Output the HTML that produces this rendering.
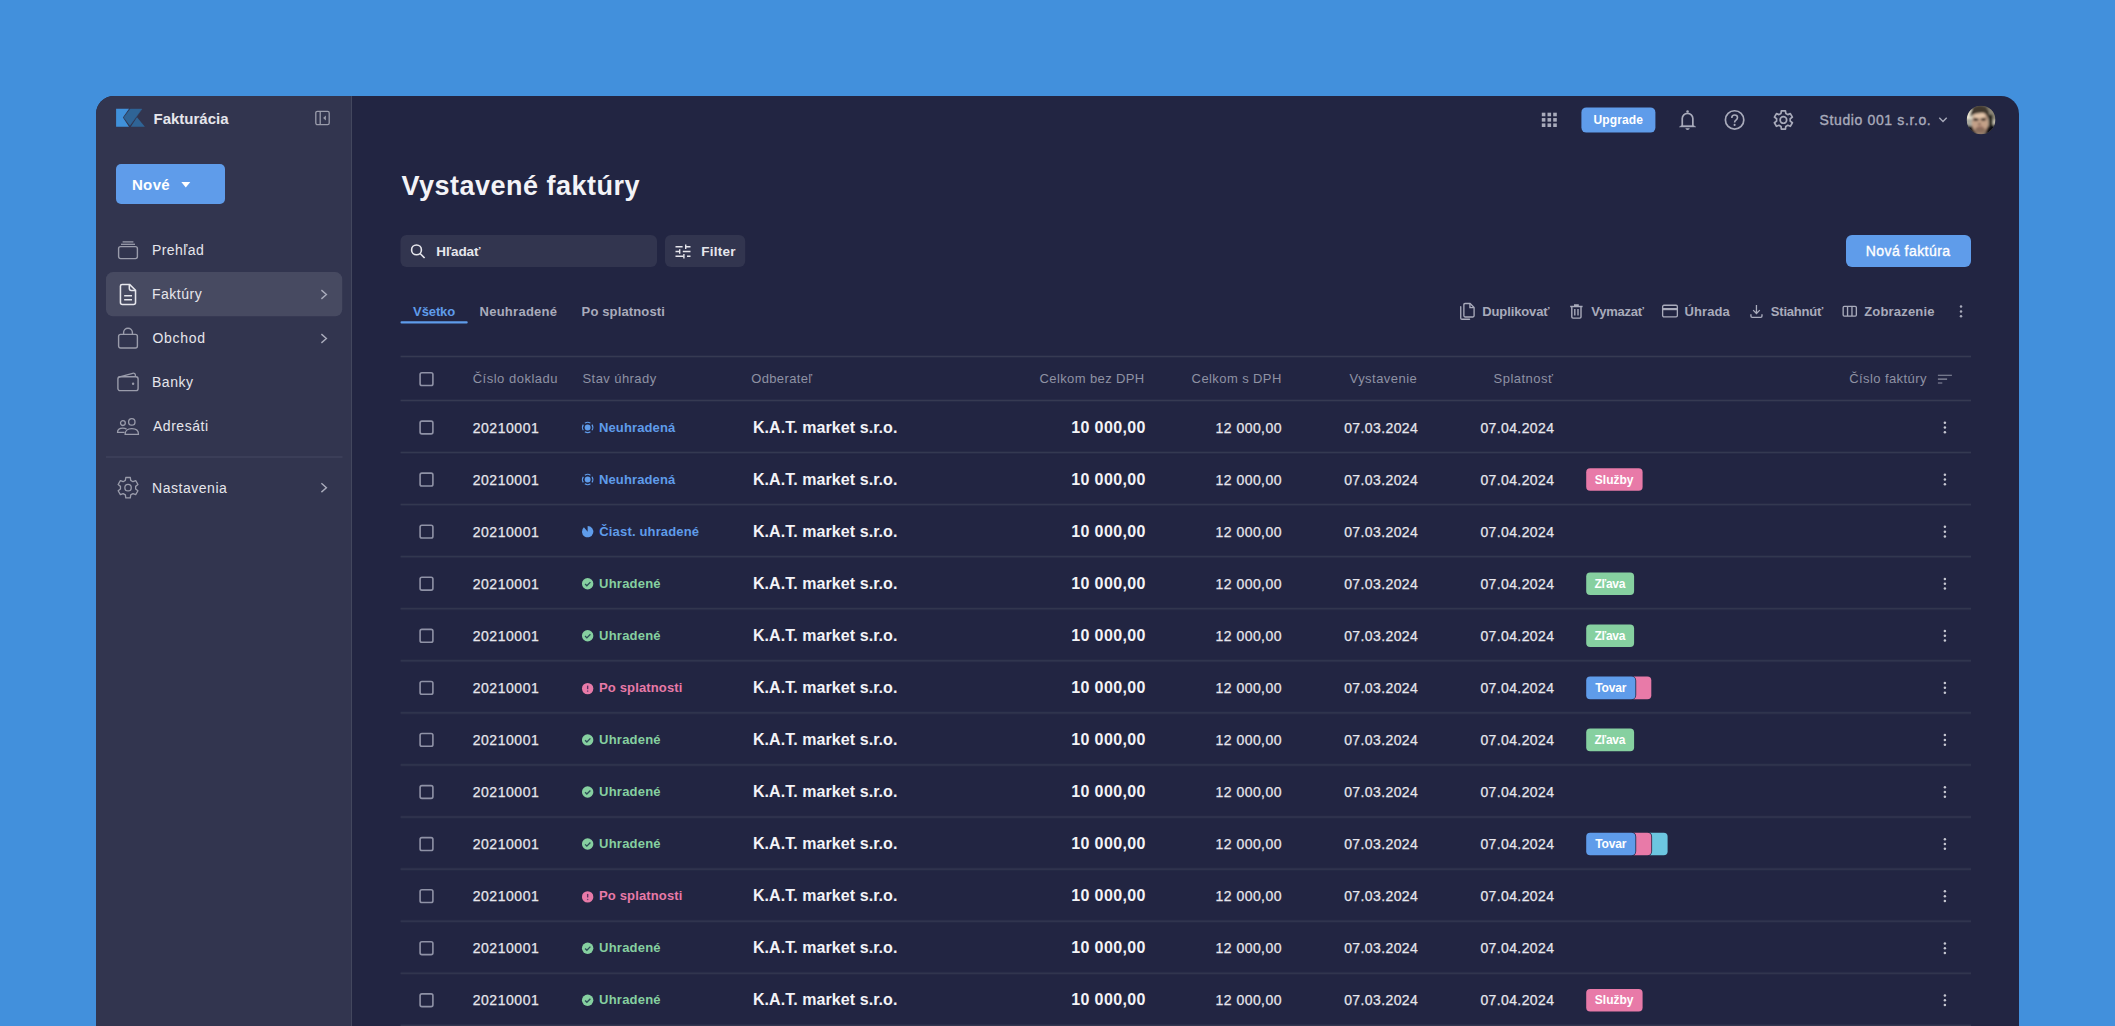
<!DOCTYPE html>
<html lang="sk">
<head>
<meta charset="utf-8">
<title>Vystavené faktúry</title>
<style>
html,body{margin:0;padding:0}
body{width:2115px;height:1026px;overflow:hidden;background:#4290dc;font-family:"Liberation Sans", sans-serif;position:relative}
.b{position:absolute;box-sizing:content-box}
.t{position:absolute;white-space:pre;font-weight:400}
.m{-webkit-text-stroke:0.35px currentColor}
.m2{-webkit-text-stroke:0.25px currentColor}
svg{display:block;overflow:visible}
</style>
</head>
<body>
<div class="b" style="left:96px;top:96px;width:1923px;height:960px;background:#222542;border-radius:18px;overflow:hidden"><div class="b" style="left:0;top:0;width:255px;height:960px;background:#32354f;border-right:1px solid #43475e"></div></div>
<aside class="sidebar">
<svg class="b" style="left:116px;top:108px" width="30" height="21" fill="none"><path d="M0.1 0.7H13L6.9 9.6L13 18.8H0.1Z" fill="#4091db"/><path d="M14.2 1.1H25.9L13.9 17.4L7.9 9.6Z" fill="#2f6496" stroke="#2f6496" stroke-width="0.5" stroke-linejoin="round"/><path d="M21 9.3L28.9 18.8H14.8Z" fill="#2f6496"/></svg>
<svg class="b" style="left:315px;top:110px" width="16" height="17" fill="none"><g transform="translate(0 0.5)"><rect x="0.8" y="0.8" width="13.4" height="13.4" rx="1.6" stroke="#9a9cab" stroke-width="1.3"/><path d="M5.2 1V14" stroke="#9a9cab" stroke-width="1.3"/><path d="M10.9 5L8.1 7.5L10.9 10Z" fill="#9a9cab"/></g></svg>
<svg class="b" style="left:116px;top:164px" width="110" height="41" fill="none"><rect width="109" height="40" rx="5" fill="#5f9cea"/></svg>
<svg class="b" style="left:181px;top:181px" width="11" height="8" fill="none"><g transform="translate(0 0.8)"><path d="M0.3 0.3H9.3L4.8 5.6Z" fill="#fff"/></g></svg>
<svg class="b" style="left:106px;top:272px" width="238" height="46" fill="none"><g transform="translate(0 0.1)"><rect width="236.2" height="44.2" rx="7" fill="#474a61"/></g></svg>
<svg class="b" style="left:106px;top:456px" width="238" height="3" fill="none"><g transform="translate(0 0.5)"><rect width="236.5" height="1" fill="#454962"/></g></svg>
<svg class="b" style="left:117px;top:240px" width="23" height="21" fill="none"><rect x="1.6" y="6.6" width="18.8" height="12" rx="2" stroke="#9a9cab" stroke-width="1.4"/><path d="M4 4.3H18" stroke="#9a9cab" stroke-width="1.3"/><path d="M5.6 1.9H16.4" stroke="#9a9cab" stroke-width="1.3"/></svg>
<svg class="b" style="left:119px;top:283px" width="20" height="24" fill="none"><g transform="scale(1.0333 1)"><path d="M3 1.4H10.2L16 7.2V19.4Q16 21.4 14 21.4H3.4Q1.4 21.4 1.4 19.4V3Q1.4 1.4 3 1.4Z" stroke="#e6e6ec" stroke-width="1.5" stroke-linejoin="round"/><path d="M10 1.6V5.6Q10 7.4 11.8 7.4H15.8" stroke="#e6e6ec" stroke-width="1.5"/><path d="M5 12.7H12.6M5 16.7H12.6" stroke="#e6e6ec" stroke-width="1.5"/></g></svg>
<svg class="b" style="left:117px;top:327px" width="23" height="24" fill="none"><rect x="1.6" y="7.4" width="18.8" height="13.6" rx="2" stroke="#9a9cab" stroke-width="1.4"/><path d="M6.6 7.2V5.6A4.4 4.4 0 0 1 15.4 5.6V7.2" stroke="#9a9cab" stroke-width="1.4"/></svg>
<svg class="b" style="left:116px;top:372px" width="25" height="21" fill="none"><g transform="translate(0.5 0)"><rect x="1.4" y="4.8" width="20.2" height="13.8" rx="2.2" stroke="#9a9cab" stroke-width="1.4"/><path d="M2.2 5.2L16.2 1.3Q18.6 0.8 18.9 3.2V4.8" stroke="#9a9cab" stroke-width="1.3"/><circle cx="16.6" cy="11.8" r="1.2" fill="#9a9cab"/></g></svg>
<svg class="b" style="left:116px;top:417px" width="25" height="20" fill="none"><g transform="translate(0.5 0.5)"><circle cx="15.3" cy="4.4" r="3.2" stroke="#9a9cab" stroke-width="1.3"/><circle cx="6.4" cy="5.6" r="2.4" stroke="#9a9cab" stroke-width="1.3"/><path d="M8.6 16.9Q8.6 11.2 15.3 11.2Q22 11.2 22 16.9Z" stroke="#9a9cab" stroke-width="1.3" stroke-linejoin="round"/><path d="M8 14.9H1Q1 10.6 6.4 10.6Q8.6 10.6 10 11.6" stroke="#9a9cab" stroke-width="1.3" stroke-linejoin="round"/></g></svg>
<svg class="b" style="left:116px;top:476px" width="25" height="24" fill="none"><g transform="translate(0.5 0)"><path d="M8.87 4.43L9.28 1.50L13.82 1.50L14.23 4.43L16.46 5.72L19.21 4.61L21.47 8.54L19.14 10.37L19.14 12.93L21.47 14.76L19.21 18.69L16.46 17.58L14.23 18.87L13.82 21.80L9.28 21.80L8.87 18.87L6.64 17.58L3.89 18.69L1.63 14.76L3.96 12.93L3.96 10.37L1.63 8.54L3.89 4.61L6.64 5.72Z" stroke="#9a9cab" stroke-width="1.3" stroke-linejoin="round"/><circle cx="11.55" cy="11.65" r="3.2" stroke="#9a9cab" stroke-width="1.3"/></g></svg>
<svg class="b" style="left:319px;top:288px" width="11" height="14" fill="none"><g transform="translate(0.4 0.5)"><path d="M2 1.6L7 6L2 10.4" stroke="#a9abbb" stroke-width="1.4"/></g></svg>
<svg class="b" style="left:319px;top:332px" width="11" height="14" fill="none"><g transform="translate(0.4 0.5)"><path d="M2 1.6L7 6L2 10.4" stroke="#a9abbb" stroke-width="1.4"/></g></svg>
<svg class="b" style="left:319px;top:481px" width="11" height="14" fill="none"><g transform="translate(0.4 0.7)"><path d="M2 1.6L7 6L2 10.4" stroke="#a9abbb" stroke-width="1.4"/></g></svg>
<div class="t" style="left:153.5px;top:109px;font-size:15px;line-height:20px;color:#e6e6ec;font-weight:700;">Fakturácia</div>
<div class="t" style="left:131.9px;top:175px;font-size:15px;line-height:20px;color:#ffffff;font-weight:700;letter-spacing:0.37px;">Nové</div>
<div class="t" style="left:152.0px;top:240px;font-size:14px;line-height:20px;color:#e6e6ec;letter-spacing:0.42px;">Prehľad</div>
<div class="t" style="left:152.0px;top:284px;font-size:14px;line-height:20px;color:#e6e6ec;letter-spacing:0.51px;">Faktúry</div>
<div class="t" style="left:152.5px;top:328px;font-size:14px;line-height:20px;color:#e6e6ec;letter-spacing:0.72px;">Obchod</div>
<div class="t" style="left:152.0px;top:372px;font-size:14px;line-height:20px;color:#e6e6ec;letter-spacing:0.53px;">Banky</div>
<div class="t" style="left:152.9px;top:416px;font-size:14px;line-height:20px;color:#e6e6ec;letter-spacing:0.56px;">Adresáti</div>
<div class="t" style="left:152.0px;top:478px;font-size:14px;line-height:20px;color:#e6e6ec;letter-spacing:0.53px;">Nastavenia</div>
</aside>
<header class="topbar">
<svg class="b" style="left:1541px;top:112px" width="17" height="17" fill="none"><g transform="translate(0.8 0.7)"><rect x="0" y="0" width="3.6" height="3.6" fill="#a9abbb"/><rect x="5.7" y="0" width="3.6" height="3.6" fill="#a9abbb"/><rect x="11.4" y="0" width="3.6" height="3.6" fill="#a9abbb"/><rect x="0" y="5.35" width="3.6" height="3.6" fill="#a9abbb"/><rect x="5.7" y="5.35" width="3.6" height="3.6" fill="#a9abbb"/><rect x="11.4" y="5.35" width="3.6" height="3.6" fill="#a9abbb"/><rect x="0" y="10.7" width="3.6" height="3.6" fill="#a9abbb"/><rect x="5.7" y="10.7" width="3.6" height="3.6" fill="#a9abbb"/><rect x="11.4" y="10.7" width="3.6" height="3.6" fill="#a9abbb"/></g></svg>
<svg class="b" style="left:1581px;top:107px" width="76" height="27" fill="none"><g transform="translate(0.4 0.4)"><rect width="74" height="25.2" rx="5" fill="#5f9cea"/></g></svg>
<svg class="b" style="left:1678px;top:109px" width="20" height="23" fill="none"><circle cx="9.55" cy="2.5" r="1.25" fill="#a9abbb"/><path d="M4.25 17V9.6A5.3 5.3 0 0 1 14.85 9.6V17" stroke="#a9abbb" stroke-width="1.7"/><path d="M3.4 16.4L1.3 18H17.8L15.7 16.4Z" fill="#a9abbb" stroke="#a9abbb" stroke-width="0.4" stroke-linejoin="round"/><path d="M7.3 19.2H11.8Q11.3 20.9 9.55 20.9Q7.8 20.9 7.3 19.2Z" fill="#a9abbb"/></svg>
<svg class="b" style="left:1724px;top:109px" width="22" height="23" fill="none"><g transform="translate(0 0.5)"><circle cx="10.6" cy="10.45" r="9.2" stroke="#a9abbb" stroke-width="1.7"/><path d="M7.8 8.4Q7.8 5.5 10.6 5.5Q13.5 5.5 13.5 8Q13.5 9.5 12 10.6Q10.6 11.6 10.6 12.9" stroke="#a9abbb" stroke-width="1.6"/><circle cx="10.6" cy="15.4" r="1.05" fill="#a9abbb"/></g></svg>
<svg class="b" style="left:1773px;top:109px" width="22" height="23" fill="none"><g transform="translate(0 0.45)"><path d="M7.99 4.03L8.35 1.33L12.45 1.33L12.81 4.03L14.80 5.18L17.32 4.14L19.37 7.69L17.20 9.35L17.20 11.65L19.37 13.31L17.32 16.86L14.80 15.82L12.81 16.97L12.45 19.67L8.35 19.67L7.99 16.97L6.00 15.82L3.48 16.86L1.43 13.31L3.60 11.65L3.60 9.35L1.43 7.69L3.48 4.14L6.00 5.18Z" stroke="#a9abbb" stroke-width="1.7" stroke-linejoin="round"/><circle cx="10.4" cy="10.5" r="3.3" stroke="#a9abbb" stroke-width="1.7"/></g></svg>
<svg class="b" style="left:1938px;top:116px" width="11" height="9" fill="none"><g transform="translate(0 0.5)"><path d="M1.3 1.3L5 4.9L8.7 1.3" stroke="#a9abbb" stroke-width="1.4"/></g></svg>
<svg class="b" style="left:1966px;top:105px" width="30" height="30"><g transform="translate(0.8 0.7)"><defs><clipPath id="avc"><circle cx="14.25" cy="14.25" r="14.25"/></clipPath><filter id="avb" x="-20%" y="-20%" width="140%" height="140%"><feGaussianBlur stdDeviation="0.85"/></filter></defs><g clip-path="url(#avc)"><rect width="28.5" height="28.5" fill="#6f695d"/><g filter="url(#avb)"><rect x="-2" y="3" width="8" height="10.5" fill="#ece6d4"/><rect x="-2" y="13.5" width="8" height="8" fill="#a9a99f"/><rect x="20" y="2" width="10" height="22" fill="#8d8778"/><rect x="22.4" y="9" width="3.2" height="13" fill="#14120f"/><rect x="26.2" y="14" width="3" height="8" fill="#c9c5b5"/><path d="M-2 19.5L9 21V30H-2ZM19 21.5L30 18.5V30H19Z" fill="#0c0d14"/><ellipse cx="13.2" cy="17" rx="8.2" ry="11.6" fill="#c3a088"/><ellipse cx="12.6" cy="9.6" rx="6" ry="3" fill="#e4c6ab"/><path d="M3.6 12Q3 0.5 12.5 0Q20.5 -0.2 22.2 6Q22.8 9 21.6 14Q20.3 8.6 17 7.4Q11 6.6 5.8 9Q4.6 10 3.6 12Z" fill="#40392f"/><ellipse cx="9" cy="13.9" rx="2.8" ry="1.4" fill="#1c1512"/><ellipse cx="16.6" cy="13.6" rx="2.8" ry="1.4" fill="#1c1512"/><ellipse cx="12.6" cy="18.4" rx="1.7" ry="0.8" fill="#6d5242"/><ellipse cx="13.3" cy="24.4" rx="5.4" ry="3.4" fill="#8a6e5d"/><ellipse cx="13.4" cy="21.2" rx="3" ry="0.8" fill="#9b6e63"/></g></g></g></svg>
<div class="t" style="left:1593.4px;top:110px;font-size:12px;line-height:20px;color:#ffffff;font-weight:700;letter-spacing:0.15px;">Upgrade</div>
<div class="t m" style="left:1819.5px;top:110px;font-size:14px;line-height:20px;color:#a9abbb;letter-spacing:0.63px;">Studio 001 s.r.o.</div>
</header>
<section class="page-head">
<svg class="b" style="left:400px;top:235px" width="258" height="34" fill="none"><g transform="translate(0.5 0.1)"><rect width="256.5" height="32" rx="6" fill="#32354f"/></g></svg>
<svg class="b" style="left:410px;top:243px" width="18" height="18" fill="none"><g transform="translate(0.2 0.6)"><circle cx="6.3" cy="6.3" r="4.9" stroke="#e6e6ec" stroke-width="1.6"/><path d="M9.9 9.9L14.4 14.4" stroke="#e6e6ec" stroke-width="1.6"/></g></svg>
<svg class="b" style="left:665px;top:235px" width="82" height="34" fill="none"><g transform="translate(0 0.1)"><rect width="80.2" height="32" rx="6" fill="#32354f"/></g></svg>
<svg class="b" style="left:675px;top:244px" width="17" height="16" fill="none"><path d="M0.5 2.8H7.6M11 2.8H15.5M0.5 7.5H4.4M7.8 7.5H15.5M0.5 12.2H8.6M12 12.2H15.5" stroke="#e6e6ec" stroke-width="1.4"/><path d="M10.7 0.6V5M4.7 5.3V9.7M8.9 10V14.4" stroke="#e6e6ec" stroke-width="1.4"/></svg>
<svg class="b" style="left:1846px;top:235px" width="126" height="33" fill="none"><rect width="125" height="32" rx="6" fill="#5f9cea"/></svg>
<div class="t" style="left:401.5px;top:166px;font-size:27px;line-height:40px;color:#f3f3f7;font-weight:700;letter-spacing:0.5px;">Vystavené faktúry</div>
<div class="t" style="left:436.3px;top:242px;font-size:13.5px;line-height:20px;color:#e6e6ec;font-weight:700;letter-spacing:-0.1px;">Hľadať</div>
<div class="t" style="left:701.3px;top:242px;font-size:13.5px;line-height:20px;color:#e6e6ec;font-weight:700;letter-spacing:0.25px;">Filter</div>
<div class="t m" style="left:1865.7px;top:241px;font-size:14px;line-height:20px;color:#ffffff;letter-spacing:0.46px;">Nová faktúra</div>
</section>
<nav class="tabs">
<svg class="b" style="left:400px;top:321px" width="69" height="4" fill="none"><g transform="translate(0.5 0.3)"><rect width="67.2" height="2.3" rx="1" fill="#5f9cea"/></g></svg>
<div class="t" style="left:413.1px;top:302px;font-size:13px;line-height:20px;color:#5f9cea;font-weight:700;letter-spacing:-0.11px;">Všetko</div>
<div class="t" style="left:479.5px;top:302px;font-size:13px;line-height:20px;color:#a9abbb;font-weight:700;letter-spacing:0.27px;">Neuhradené</div>
<div class="t" style="left:581.6px;top:302px;font-size:13px;line-height:20px;color:#a9abbb;font-weight:700;letter-spacing:0.14px;">Po splatnosti</div>
</nav>
<div class="actions">
<svg class="b" style="left:1459px;top:302px" width="18" height="20" fill="none"><g transform="translate(0.7 0.4) scale(0.9471 0.9474)"><path d="M5.6 1.2H11L15.2 5.4V14.2Q15.2 15.4 14 15.4H5.6Q4.4 15.4 4.4 14.2V2.4Q4.4 1.2 5.6 1.2Z" stroke="#a9abbb" stroke-width="1.4" stroke-linejoin="round"/><path d="M10.8 1.4V5.6H15" stroke="#a9abbb" stroke-width="1.4"/><path d="M1.1 4.6V16.6Q1.1 17.8 2.3 17.8H10.4" stroke="#a9abbb" stroke-width="1.4" stroke-linecap="round"/></g></svg>
<svg class="b" style="left:1569px;top:304px" width="16" height="17" fill="none"><g transform="translate(0.4 0) scale(1 0.9625)"><path d="M0.8 2.6H13.2M4.6 1H9.4" stroke="#a9abbb" stroke-width="1.4"/><path d="M2.4 2.8V13.4Q2.4 14.6 3.6 14.6H10.4Q11.6 14.6 11.6 13.4V2.8" stroke="#a9abbb" stroke-width="1.4"/><path d="M5.4 5.2V12M8.6 5.2V12" stroke="#a9abbb" stroke-width="1.4"/></g></svg>
<svg class="b" style="left:1661px;top:304px" width="19" height="16" fill="none"><g transform="translate(0.5 0.1) scale(0.9444 1)"><rect x="1.2" y="1.2" width="15.6" height="11.6" rx="1.4" stroke="#a9abbb" stroke-width="1.4"/><path d="M1.2 5H16.8" stroke="#a9abbb" stroke-width="2.2"/></g></svg>
<svg class="b" style="left:1750px;top:304px" width="14" height="16" fill="none"><g transform="translate(0 0.2) scale(0.9214 0.9533)"><path d="M7 0.8V9.6M3.4 6.2L7 9.8L10.6 6.2" stroke="#a9abbb" stroke-width="1.4"/><path d="M1 10.6V12.4Q1 13.8 2.4 13.8H11.6Q13 13.8 13 12.4V10.6" stroke="#a9abbb" stroke-width="1.5"/></g></svg>
<svg class="b" style="left:1842px;top:305px" width="17" height="13" fill="none"><g transform="translate(0.3 0.6) scale(0.9563 0.9417)"><rect x="0.9" y="0.9" width="13.8" height="10.2" rx="1.2" stroke="#a9abbb" stroke-width="1.4"/><path d="M5.5 1V11M10.1 1V11" stroke="#a9abbb" stroke-width="1.4"/></g></svg>
<svg class="b" style="left:1959px;top:304px" width="5" height="16" fill="none"><g transform="translate(0 0.4)"><circle cx="2" cy="2.2" r="1.25" fill="#a9abbb"/><circle cx="2" cy="7" r="1.25" fill="#a9abbb"/><circle cx="2" cy="11.8" r="1.25" fill="#a9abbb"/></g></svg>
<div class="t" style="left:1482.3px;top:302px;font-size:13px;line-height:20px;color:#a9abbb;font-weight:700;letter-spacing:-0.13px;">Duplikovať</div>
<div class="t" style="left:1591.2px;top:302px;font-size:13px;line-height:20px;color:#a9abbb;font-weight:700;letter-spacing:-0.24px;">Vymazať</div>
<div class="t" style="left:1684.4px;top:302px;font-size:13px;line-height:20px;color:#a9abbb;font-weight:700;letter-spacing:0.12px;">Úhrada</div>
<div class="t" style="left:1770.8px;top:302px;font-size:13px;line-height:20px;color:#a9abbb;font-weight:700;letter-spacing:-0.2px;">Stiahnúť</div>
<div class="t" style="left:1864.2px;top:302px;font-size:13px;line-height:20px;color:#a9abbb;font-weight:700;letter-spacing:0.18px;">Zobrazenie</div>
</div>
<div class="table-head">
<svg class="b" style="left:400px;top:355px" width="1572" height="4" fill="none"><g transform="translate(0.6 0)"><rect width="1570.4" height="3" fill="#363a52" opacity=".3"/><rect y="1" width="1570.4" height="1" fill="#363a52"/></g></svg>
<svg class="b" style="left:400px;top:399px" width="1572" height="4" fill="none"><g transform="translate(0.6 0)"><rect width="1570.4" height="3" fill="#363a52" opacity=".3"/><rect y="1" width="1570.4" height="1" fill="#363a52"/></g></svg>
<svg class="b" style="left:419px;top:371px" width="16" height="17" fill="none"><g transform="translate(0 0.6)"><rect x="1.1" y="1.1" width="12.8" height="12.8" rx="1.8" stroke="#8f92a6" stroke-width="1.6"/></g></svg>
<svg class="b" style="left:1937px;top:374px" width="17" height="12" fill="none"><g transform="translate(0.5 0.1)"><path d="M0.4 1.1H14.4M0.4 5H9.6M0.4 8.9H4.8" stroke="#8f92a4" stroke-width="1.15"/></g></svg>
<div class="t" style="left:472.7px;top:369px;font-size:13px;line-height:20px;color:#8f92a4;letter-spacing:0.51px;">Číslo dokladu</div>
<div class="t" style="left:582.5px;top:369px;font-size:13px;line-height:20px;color:#8f92a4;letter-spacing:0.43px;">Stav úhrady</div>
<div class="t" style="left:751.2px;top:369px;font-size:13px;line-height:20px;color:#8f92a4;letter-spacing:0.37px;">Odberateľ</div>
<div class="t" style="left:1039.6px;top:369px;font-size:13px;line-height:20px;color:#8f92a4;letter-spacing:0.38px;">Celkom bez DPH</div>
<div class="t" style="left:1191.6px;top:369px;font-size:13px;line-height:20px;color:#8f92a4;letter-spacing:0.41px;">Celkom s DPH</div>
<div class="t" style="left:1349.5px;top:369px;font-size:13px;line-height:20px;color:#8f92a4;letter-spacing:0.46px;">Vystavenie</div>
<div class="t" style="left:1493.6px;top:369px;font-size:13px;line-height:20px;color:#8f92a4;letter-spacing:0.48px;">Splatnosť</div>
<div class="t" style="left:1849.2px;top:369px;font-size:13px;line-height:20px;color:#8f92a4;letter-spacing:0.42px;">Číslo faktúry</div>
</div>
<div class="table-row">
<svg class="b" style="left:400px;top:451px" width="1572" height="5" fill="none"><g transform="translate(0.6 0.05)"><rect width="1570.4" height="3" fill="#363a52" opacity=".3"/><rect y="1" width="1570.4" height="1" fill="#363a52"/></g></svg>
<svg class="b" style="left:419px;top:420px" width="16" height="16" fill="none"><rect x="1.1" y="1.1" width="12.8" height="12.8" rx="1.8" stroke="#8f92a6" stroke-width="1.6"/></svg>
<svg class="b" style="left:581px;top:421px" width="14" height="14" fill="none"><g transform="translate(0.75 0.55) scale(0.9833 0.9833)"><path d="M10.4 3.14A5.25 5.25 0 0 1 10.4 8.86M8.86 10.4A5.25 5.25 0 0 1 3.14 10.4M1.6 8.86A5.25 5.25 0 0 1 1.6 3.14M3.14 1.6A5.25 5.25 0 0 1 8.86 1.6" stroke="#5f9cea" stroke-width="1.15"/><circle cx="6" cy="6" r="3" fill="#5f9cea"/></g></svg>
<svg class="b" style="left:1942px;top:420px" width="6" height="16" fill="none"><g transform="translate(0.9 0.5)"><circle cx="2" cy="2.2" r="1.25" fill="#c6c7d1"/><circle cx="2" cy="7" r="1.25" fill="#c6c7d1"/><circle cx="2" cy="11.8" r="1.25" fill="#c6c7d1"/></g></svg>
<div class="t m2" style="left:472.7px;top:418px;font-size:14px;line-height:20px;color:#e6e6ec;letter-spacing:0.55px;">20210001</div>
<div class="t" style="left:599.0px;top:418px;font-size:13px;line-height:20px;color:#5f9cea;font-weight:700;letter-spacing:0.12px;">Neuhradená</div>
<div class="t" style="left:752.9px;top:418px;font-size:16px;line-height:20px;color:#f3f3f7;font-weight:700;letter-spacing:0.07px;">K.A.T. market s.r.o.</div>
<div class="t" style="left:1071.2px;top:418px;font-size:16px;line-height:20px;color:#f3f3f7;font-weight:700;letter-spacing:0.39px;">10 000,00</div>
<div class="t m2" style="left:1215.6px;top:418px;font-size:14px;line-height:20px;color:#e6e6ec;letter-spacing:0.45px;">12 000,00</div>
<div class="t m2" style="left:1344.2px;top:418px;font-size:14px;line-height:20px;color:#e6e6ec;letter-spacing:0.39px;">07.03.2024</div>
<div class="t m2" style="left:1480.4px;top:418px;font-size:14px;line-height:20px;color:#e6e6ec;letter-spacing:0.39px;">07.04.2024</div>
</div>
<div class="table-row">
<svg class="b" style="left:400px;top:503px" width="1572" height="5" fill="none"><g transform="translate(0.6 0.12)"><rect width="1570.4" height="3" fill="#363a52" opacity=".3"/><rect y="1" width="1570.4" height="1" fill="#363a52"/></g></svg>
<svg class="b" style="left:419px;top:472px" width="16" height="17" fill="none"><g transform="translate(0 0.07)"><rect x="1.1" y="1.1" width="12.8" height="12.8" rx="1.8" stroke="#8f92a6" stroke-width="1.6"/></g></svg>
<svg class="b" style="left:581px;top:473px" width="14" height="14" fill="none"><g transform="translate(0.75 0.62) scale(0.9833 0.9833)"><path d="M10.4 3.14A5.25 5.25 0 0 1 10.4 8.86M8.86 10.4A5.25 5.25 0 0 1 3.14 10.4M1.6 8.86A5.25 5.25 0 0 1 1.6 3.14M3.14 1.6A5.25 5.25 0 0 1 8.86 1.6" stroke="#5f9cea" stroke-width="1.15"/><circle cx="6" cy="6" r="3" fill="#5f9cea"/></g></svg>
<svg class="b" style="left:1585px;top:467px" width="60" height="26" fill="none"><g transform="translate(0.2 0.27)"><rect x="1" y="1" width="56.4" height="22.6" rx="4" fill="#e87aa8"/></g></svg>
<svg class="b" style="left:1942px;top:472px" width="6" height="16" fill="none"><g transform="translate(0.9 0.57)"><circle cx="2" cy="2.2" r="1.25" fill="#c6c7d1"/><circle cx="2" cy="7" r="1.25" fill="#c6c7d1"/><circle cx="2" cy="11.8" r="1.25" fill="#c6c7d1"/></g></svg>
<div class="t m2" style="left:472.7px;top:470px;font-size:14px;line-height:20px;color:#e6e6ec;letter-spacing:0.55px;">20210001</div>
<div class="t" style="left:599.0px;top:470px;font-size:13px;line-height:20px;color:#5f9cea;font-weight:700;letter-spacing:0.12px;">Neuhradená</div>
<div class="t" style="left:752.9px;top:470px;font-size:16px;line-height:20px;color:#f3f3f7;font-weight:700;letter-spacing:0.07px;">K.A.T. market s.r.o.</div>
<div class="t" style="left:1071.2px;top:470px;font-size:16px;line-height:20px;color:#f3f3f7;font-weight:700;letter-spacing:0.39px;">10 000,00</div>
<div class="t m2" style="left:1215.6px;top:470px;font-size:14px;line-height:20px;color:#e6e6ec;letter-spacing:0.45px;">12 000,00</div>
<div class="t m2" style="left:1344.2px;top:470px;font-size:14px;line-height:20px;color:#e6e6ec;letter-spacing:0.39px;">07.03.2024</div>
<div class="t m2" style="left:1480.4px;top:470px;font-size:14px;line-height:20px;color:#e6e6ec;letter-spacing:0.39px;">07.04.2024</div>
<div class="t" style="left:1594.8px;top:470px;font-size:12px;line-height:20px;color:#ffffff;font-weight:700;letter-spacing:0.01px;">Služby</div>
</div>
<div class="table-row">
<svg class="b" style="left:400px;top:555px" width="1572" height="5" fill="none"><g transform="translate(0.6 0.19)"><rect width="1570.4" height="3" fill="#363a52" opacity=".3"/><rect y="1" width="1570.4" height="1" fill="#363a52"/></g></svg>
<svg class="b" style="left:419px;top:524px" width="16" height="17" fill="none"><g transform="translate(0 0.14)"><rect x="1.1" y="1.1" width="12.8" height="12.8" rx="1.8" stroke="#8f92a6" stroke-width="1.6"/></g></svg>
<svg class="b" style="left:581px;top:525px" width="14" height="14" fill="none"><g transform="translate(0.75 0.74) scale(0.9833 0.9833)"><path d="M6 6L2.2 1.6A5.8 5.8 0 1 0 6 0.2Z" fill="#5f9cea"/></g></svg>
<svg class="b" style="left:1942px;top:524px" width="6" height="16" fill="none"><g transform="translate(0.9 0.64)"><circle cx="2" cy="2.2" r="1.25" fill="#c6c7d1"/><circle cx="2" cy="7" r="1.25" fill="#c6c7d1"/><circle cx="2" cy="11.8" r="1.25" fill="#c6c7d1"/></g></svg>
<div class="t m2" style="left:472.7px;top:522px;font-size:14px;line-height:20px;color:#e6e6ec;letter-spacing:0.55px;">20210001</div>
<div class="t" style="left:599.3px;top:522px;font-size:13px;line-height:20px;color:#5f9cea;font-weight:700;letter-spacing:0.16px;">Čiast. uhradené</div>
<div class="t" style="left:752.9px;top:522px;font-size:16px;line-height:20px;color:#f3f3f7;font-weight:700;letter-spacing:0.07px;">K.A.T. market s.r.o.</div>
<div class="t" style="left:1071.2px;top:522px;font-size:16px;line-height:20px;color:#f3f3f7;font-weight:700;letter-spacing:0.39px;">10 000,00</div>
<div class="t m2" style="left:1215.6px;top:522px;font-size:14px;line-height:20px;color:#e6e6ec;letter-spacing:0.45px;">12 000,00</div>
<div class="t m2" style="left:1344.2px;top:522px;font-size:14px;line-height:20px;color:#e6e6ec;letter-spacing:0.39px;">07.03.2024</div>
<div class="t m2" style="left:1480.4px;top:522px;font-size:14px;line-height:20px;color:#e6e6ec;letter-spacing:0.39px;">07.04.2024</div>
</div>
<div class="table-row">
<svg class="b" style="left:400px;top:607px" width="1572" height="5" fill="none"><g transform="translate(0.6 0.26)"><rect width="1570.4" height="3" fill="#363a52" opacity=".3"/><rect y="1" width="1570.4" height="1" fill="#363a52"/></g></svg>
<svg class="b" style="left:419px;top:576px" width="16" height="17" fill="none"><g transform="translate(0 0.21)"><rect x="1.1" y="1.1" width="12.8" height="12.8" rx="1.8" stroke="#8f92a6" stroke-width="1.6"/></g></svg>
<svg class="b" style="left:581px;top:577px" width="14" height="14" fill="none"><g transform="translate(0.75 0.81) scale(0.9833 0.9833)"><circle cx="6" cy="6" r="5.8" fill="#86d0a0"/><path d="M3.4 6.3L5.2 8.1L8.8 4.4" stroke="#2c4f57" stroke-width="1.35"/></g></svg>
<svg class="b" style="left:1585px;top:571px" width="52" height="27" fill="none"><g transform="translate(0.2 0.41)"><rect x="1" y="1" width="47.9" height="22.6" rx="4" fill="#86d0a0"/></g></svg>
<svg class="b" style="left:1942px;top:576px" width="6" height="16" fill="none"><g transform="translate(0.9 0.71)"><circle cx="2" cy="2.2" r="1.25" fill="#c6c7d1"/><circle cx="2" cy="7" r="1.25" fill="#c6c7d1"/><circle cx="2" cy="11.8" r="1.25" fill="#c6c7d1"/></g></svg>
<div class="t m2" style="left:472.7px;top:574px;font-size:14px;line-height:20px;color:#e6e6ec;letter-spacing:0.55px;">20210001</div>
<div class="t" style="left:599.1px;top:574px;font-size:13px;line-height:20px;color:#86d0a0;font-weight:700;letter-spacing:0.22px;">Uhradené</div>
<div class="t" style="left:752.9px;top:574px;font-size:16px;line-height:20px;color:#f3f3f7;font-weight:700;letter-spacing:0.07px;">K.A.T. market s.r.o.</div>
<div class="t" style="left:1071.2px;top:574px;font-size:16px;line-height:20px;color:#f3f3f7;font-weight:700;letter-spacing:0.39px;">10 000,00</div>
<div class="t m2" style="left:1215.6px;top:574px;font-size:14px;line-height:20px;color:#e6e6ec;letter-spacing:0.45px;">12 000,00</div>
<div class="t m2" style="left:1344.2px;top:574px;font-size:14px;line-height:20px;color:#e6e6ec;letter-spacing:0.39px;">07.03.2024</div>
<div class="t m2" style="left:1480.4px;top:574px;font-size:14px;line-height:20px;color:#e6e6ec;letter-spacing:0.39px;">07.04.2024</div>
<div class="t" style="left:1594.5px;top:574px;font-size:12px;line-height:20px;color:#ffffff;font-weight:700;letter-spacing:-0.27px;">Zľava</div>
</div>
<div class="table-row">
<svg class="b" style="left:400px;top:659px" width="1572" height="5" fill="none"><g transform="translate(0.6 0.33)"><rect width="1570.4" height="3" fill="#363a52" opacity=".3"/><rect y="1" width="1570.4" height="1" fill="#363a52"/></g></svg>
<svg class="b" style="left:419px;top:628px" width="16" height="17" fill="none"><g transform="translate(0 0.28)"><rect x="1.1" y="1.1" width="12.8" height="12.8" rx="1.8" stroke="#8f92a6" stroke-width="1.6"/></g></svg>
<svg class="b" style="left:581px;top:629px" width="14" height="14" fill="none"><g transform="translate(0.75 0.88) scale(0.9833 0.9833)"><circle cx="6" cy="6" r="5.8" fill="#86d0a0"/><path d="M3.4 6.3L5.2 8.1L8.8 4.4" stroke="#2c4f57" stroke-width="1.35"/></g></svg>
<svg class="b" style="left:1585px;top:623px" width="52" height="27" fill="none"><g transform="translate(0.2 0.48)"><rect x="1" y="1" width="47.9" height="22.6" rx="4" fill="#86d0a0"/></g></svg>
<svg class="b" style="left:1942px;top:628px" width="6" height="16" fill="none"><g transform="translate(0.9 0.78)"><circle cx="2" cy="2.2" r="1.25" fill="#c6c7d1"/><circle cx="2" cy="7" r="1.25" fill="#c6c7d1"/><circle cx="2" cy="11.8" r="1.25" fill="#c6c7d1"/></g></svg>
<div class="t m2" style="left:472.7px;top:626px;font-size:14px;line-height:20px;color:#e6e6ec;letter-spacing:0.55px;">20210001</div>
<div class="t" style="left:599.1px;top:626px;font-size:13px;line-height:20px;color:#86d0a0;font-weight:700;letter-spacing:0.22px;">Uhradené</div>
<div class="t" style="left:752.9px;top:626px;font-size:16px;line-height:20px;color:#f3f3f7;font-weight:700;letter-spacing:0.07px;">K.A.T. market s.r.o.</div>
<div class="t" style="left:1071.2px;top:626px;font-size:16px;line-height:20px;color:#f3f3f7;font-weight:700;letter-spacing:0.39px;">10 000,00</div>
<div class="t m2" style="left:1215.6px;top:626px;font-size:14px;line-height:20px;color:#e6e6ec;letter-spacing:0.45px;">12 000,00</div>
<div class="t m2" style="left:1344.2px;top:626px;font-size:14px;line-height:20px;color:#e6e6ec;letter-spacing:0.39px;">07.03.2024</div>
<div class="t m2" style="left:1480.4px;top:626px;font-size:14px;line-height:20px;color:#e6e6ec;letter-spacing:0.39px;">07.04.2024</div>
<div class="t" style="left:1594.5px;top:626px;font-size:12px;line-height:20px;color:#ffffff;font-weight:700;letter-spacing:-0.27px;">Zľava</div>
</div>
<div class="table-row">
<svg class="b" style="left:400px;top:711px" width="1572" height="5" fill="none"><g transform="translate(0.6 0.4)"><rect width="1570.4" height="3" fill="#363a52" opacity=".3"/><rect y="1" width="1570.4" height="1" fill="#363a52"/></g></svg>
<svg class="b" style="left:419px;top:680px" width="16" height="17" fill="none"><g transform="translate(0 0.35)"><rect x="1.1" y="1.1" width="12.8" height="12.8" rx="1.8" stroke="#8f92a6" stroke-width="1.6"/></g></svg>
<svg class="b" style="left:581px;top:682px" width="14" height="14" fill="none"><g transform="translate(0.75 0.7) scale(0.9833 0.9833)"><circle cx="6" cy="6" r="5.8" fill="#e87aa8"/><path d="M6 3V6.6" stroke="#5a2f62" stroke-width="1.4"/><circle cx="6" cy="8.6" r="0.8" fill="#7a4378"/></g></svg>
<svg class="b" style="left:1629px;top:675px" width="25" height="27" fill="none"><g transform="translate(0 0.55)"><rect x="1" y="1" width="21.3" height="22.6" rx="4" fill="#e87aa8"/></g></svg>
<svg class="b" style="left:1585px;top:675px" width="53" height="27" fill="none"><g transform="translate(0.2 0.55)"><rect x="1" y="1" width="49.2" height="22.6" rx="4" fill="#5f9cea" stroke="#222542" stroke-width="1.6" paint-order="stroke"/></g></svg>
<svg class="b" style="left:1942px;top:680px" width="6" height="16" fill="none"><g transform="translate(0.9 0.85)"><circle cx="2" cy="2.2" r="1.25" fill="#c6c7d1"/><circle cx="2" cy="7" r="1.25" fill="#c6c7d1"/><circle cx="2" cy="11.8" r="1.25" fill="#c6c7d1"/></g></svg>
<div class="t m2" style="left:472.7px;top:678px;font-size:14px;line-height:20px;color:#e6e6ec;letter-spacing:0.55px;">20210001</div>
<div class="t" style="left:599.0px;top:678px;font-size:13px;line-height:20px;color:#e87aa8;font-weight:700;letter-spacing:0.15px;">Po splatnosti</div>
<div class="t" style="left:752.9px;top:678px;font-size:16px;line-height:20px;color:#f3f3f7;font-weight:700;letter-spacing:0.07px;">K.A.T. market s.r.o.</div>
<div class="t" style="left:1071.2px;top:678px;font-size:16px;line-height:20px;color:#f3f3f7;font-weight:700;letter-spacing:0.39px;">10 000,00</div>
<div class="t m2" style="left:1215.6px;top:678px;font-size:14px;line-height:20px;color:#e6e6ec;letter-spacing:0.45px;">12 000,00</div>
<div class="t m2" style="left:1344.2px;top:678px;font-size:14px;line-height:20px;color:#e6e6ec;letter-spacing:0.39px;">07.03.2024</div>
<div class="t m2" style="left:1480.4px;top:678px;font-size:14px;line-height:20px;color:#e6e6ec;letter-spacing:0.39px;">07.04.2024</div>
<div class="t" style="left:1595.2px;top:678px;font-size:12px;line-height:20px;color:#ffffff;font-weight:700;letter-spacing:-0.11px;">Tovar</div>
</div>
<div class="table-row">
<svg class="b" style="left:400px;top:763px" width="1572" height="5" fill="none"><g transform="translate(0.6 0.47)"><rect width="1570.4" height="3" fill="#363a52" opacity=".3"/><rect y="1" width="1570.4" height="1" fill="#363a52"/></g></svg>
<svg class="b" style="left:419px;top:732px" width="16" height="17" fill="none"><g transform="translate(0 0.42)"><rect x="1.1" y="1.1" width="12.8" height="12.8" rx="1.8" stroke="#8f92a6" stroke-width="1.6"/></g></svg>
<svg class="b" style="left:581px;top:734px" width="14" height="13" fill="none"><g transform="translate(0.75 0.02) scale(0.9833 0.9833)"><circle cx="6" cy="6" r="5.8" fill="#86d0a0"/><path d="M3.4 6.3L5.2 8.1L8.8 4.4" stroke="#2c4f57" stroke-width="1.35"/></g></svg>
<svg class="b" style="left:1585px;top:727px" width="52" height="27" fill="none"><g transform="translate(0.2 0.62)"><rect x="1" y="1" width="47.9" height="22.6" rx="4" fill="#86d0a0"/></g></svg>
<svg class="b" style="left:1942px;top:732px" width="6" height="16" fill="none"><g transform="translate(0.9 0.92)"><circle cx="2" cy="2.2" r="1.25" fill="#c6c7d1"/><circle cx="2" cy="7" r="1.25" fill="#c6c7d1"/><circle cx="2" cy="11.8" r="1.25" fill="#c6c7d1"/></g></svg>
<div class="t m2" style="left:472.7px;top:730px;font-size:14px;line-height:20px;color:#e6e6ec;letter-spacing:0.55px;">20210001</div>
<div class="t" style="left:599.1px;top:730px;font-size:13px;line-height:20px;color:#86d0a0;font-weight:700;letter-spacing:0.22px;">Uhradené</div>
<div class="t" style="left:752.9px;top:730px;font-size:16px;line-height:20px;color:#f3f3f7;font-weight:700;letter-spacing:0.07px;">K.A.T. market s.r.o.</div>
<div class="t" style="left:1071.2px;top:730px;font-size:16px;line-height:20px;color:#f3f3f7;font-weight:700;letter-spacing:0.39px;">10 000,00</div>
<div class="t m2" style="left:1215.6px;top:730px;font-size:14px;line-height:20px;color:#e6e6ec;letter-spacing:0.45px;">12 000,00</div>
<div class="t m2" style="left:1344.2px;top:730px;font-size:14px;line-height:20px;color:#e6e6ec;letter-spacing:0.39px;">07.03.2024</div>
<div class="t m2" style="left:1480.4px;top:730px;font-size:14px;line-height:20px;color:#e6e6ec;letter-spacing:0.39px;">07.04.2024</div>
<div class="t" style="left:1594.5px;top:730px;font-size:12px;line-height:20px;color:#ffffff;font-weight:700;letter-spacing:-0.27px;">Zľava</div>
</div>
<div class="table-row">
<svg class="b" style="left:400px;top:815px" width="1572" height="5" fill="none"><g transform="translate(0.6 0.54)"><rect width="1570.4" height="3" fill="#363a52" opacity=".3"/><rect y="1" width="1570.4" height="1" fill="#363a52"/></g></svg>
<svg class="b" style="left:419px;top:784px" width="16" height="17" fill="none"><g transform="translate(0 0.49)"><rect x="1.1" y="1.1" width="12.8" height="12.8" rx="1.8" stroke="#8f92a6" stroke-width="1.6"/></g></svg>
<svg class="b" style="left:581px;top:786px" width="14" height="13" fill="none"><g transform="translate(0.75 0.09) scale(0.9833 0.9833)"><circle cx="6" cy="6" r="5.8" fill="#86d0a0"/><path d="M3.4 6.3L5.2 8.1L8.8 4.4" stroke="#2c4f57" stroke-width="1.35"/></g></svg>
<svg class="b" style="left:1942px;top:784px" width="6" height="16" fill="none"><g transform="translate(0.9 0.99)"><circle cx="2" cy="2.2" r="1.25" fill="#c6c7d1"/><circle cx="2" cy="7" r="1.25" fill="#c6c7d1"/><circle cx="2" cy="11.8" r="1.25" fill="#c6c7d1"/></g></svg>
<div class="t m2" style="left:472.7px;top:782px;font-size:14px;line-height:20px;color:#e6e6ec;letter-spacing:0.55px;">20210001</div>
<div class="t" style="left:599.1px;top:782px;font-size:13px;line-height:20px;color:#86d0a0;font-weight:700;letter-spacing:0.22px;">Uhradené</div>
<div class="t" style="left:752.9px;top:782px;font-size:16px;line-height:20px;color:#f3f3f7;font-weight:700;letter-spacing:0.07px;">K.A.T. market s.r.o.</div>
<div class="t" style="left:1071.2px;top:782px;font-size:16px;line-height:20px;color:#f3f3f7;font-weight:700;letter-spacing:0.39px;">10 000,00</div>
<div class="t m2" style="left:1215.6px;top:782px;font-size:14px;line-height:20px;color:#e6e6ec;letter-spacing:0.45px;">12 000,00</div>
<div class="t m2" style="left:1344.2px;top:782px;font-size:14px;line-height:20px;color:#e6e6ec;letter-spacing:0.39px;">07.03.2024</div>
<div class="t m2" style="left:1480.4px;top:782px;font-size:14px;line-height:20px;color:#e6e6ec;letter-spacing:0.39px;">07.04.2024</div>
</div>
<div class="table-row">
<svg class="b" style="left:400px;top:867px" width="1572" height="5" fill="none"><g transform="translate(0.6 0.61)"><rect width="1570.4" height="3" fill="#363a52" opacity=".3"/><rect y="1" width="1570.4" height="1" fill="#363a52"/></g></svg>
<svg class="b" style="left:419px;top:836px" width="16" height="17" fill="none"><g transform="translate(0 0.56)"><rect x="1.1" y="1.1" width="12.8" height="12.8" rx="1.8" stroke="#8f92a6" stroke-width="1.6"/></g></svg>
<svg class="b" style="left:581px;top:838px" width="14" height="13" fill="none"><g transform="translate(0.75 0.16) scale(0.9833 0.9833)"><circle cx="6" cy="6" r="5.8" fill="#86d0a0"/><path d="M3.4 6.3L5.2 8.1L8.8 4.4" stroke="#2c4f57" stroke-width="1.35"/></g></svg>
<svg class="b" style="left:1645px;top:831px" width="25" height="27" fill="none"><g transform="translate(0 0.76)"><rect x="1" y="1" width="21.6" height="22.6" rx="4" fill="#6cc6e0"/></g></svg>
<svg class="b" style="left:1629px;top:831px" width="25" height="27" fill="none"><g transform="translate(0 0.76)"><rect x="1" y="1" width="21.3" height="22.6" rx="4" fill="#e87aa8" stroke="#222542" stroke-width="1.6" paint-order="stroke"/></g></svg>
<svg class="b" style="left:1585px;top:831px" width="53" height="27" fill="none"><g transform="translate(0.2 0.76)"><rect x="1" y="1" width="49.2" height="22.6" rx="4" fill="#5f9cea" stroke="#222542" stroke-width="1.6" paint-order="stroke"/></g></svg>
<svg class="b" style="left:1942px;top:837px" width="6" height="16" fill="none"><g transform="translate(0.9 0.06)"><circle cx="2" cy="2.2" r="1.25" fill="#c6c7d1"/><circle cx="2" cy="7" r="1.25" fill="#c6c7d1"/><circle cx="2" cy="11.8" r="1.25" fill="#c6c7d1"/></g></svg>
<div class="t m2" style="left:472.7px;top:834px;font-size:14px;line-height:20px;color:#e6e6ec;letter-spacing:0.55px;">20210001</div>
<div class="t" style="left:599.1px;top:834px;font-size:13px;line-height:20px;color:#86d0a0;font-weight:700;letter-spacing:0.22px;">Uhradené</div>
<div class="t" style="left:752.9px;top:834px;font-size:16px;line-height:20px;color:#f3f3f7;font-weight:700;letter-spacing:0.07px;">K.A.T. market s.r.o.</div>
<div class="t" style="left:1071.2px;top:834px;font-size:16px;line-height:20px;color:#f3f3f7;font-weight:700;letter-spacing:0.39px;">10 000,00</div>
<div class="t m2" style="left:1215.6px;top:834px;font-size:14px;line-height:20px;color:#e6e6ec;letter-spacing:0.45px;">12 000,00</div>
<div class="t m2" style="left:1344.2px;top:834px;font-size:14px;line-height:20px;color:#e6e6ec;letter-spacing:0.39px;">07.03.2024</div>
<div class="t m2" style="left:1480.4px;top:834px;font-size:14px;line-height:20px;color:#e6e6ec;letter-spacing:0.39px;">07.04.2024</div>
<div class="t" style="left:1595.2px;top:834px;font-size:12px;line-height:20px;color:#ffffff;font-weight:700;letter-spacing:-0.11px;">Tovar</div>
</div>
<div class="table-row">
<svg class="b" style="left:400px;top:919px" width="1572" height="5" fill="none"><g transform="translate(0.6 0.68)"><rect width="1570.4" height="3" fill="#363a52" opacity=".3"/><rect y="1" width="1570.4" height="1" fill="#363a52"/></g></svg>
<svg class="b" style="left:419px;top:888px" width="16" height="17" fill="none"><g transform="translate(0 0.63)"><rect x="1.1" y="1.1" width="12.8" height="12.8" rx="1.8" stroke="#8f92a6" stroke-width="1.6"/></g></svg>
<svg class="b" style="left:581px;top:890px" width="14" height="14" fill="none"><g transform="translate(0.75 0.98) scale(0.9833 0.9833)"><circle cx="6" cy="6" r="5.8" fill="#e87aa8"/><path d="M6 3V6.6" stroke="#5a2f62" stroke-width="1.4"/><circle cx="6" cy="8.6" r="0.8" fill="#7a4378"/></g></svg>
<svg class="b" style="left:1942px;top:889px" width="6" height="16" fill="none"><g transform="translate(0.9 0.13)"><circle cx="2" cy="2.2" r="1.25" fill="#c6c7d1"/><circle cx="2" cy="7" r="1.25" fill="#c6c7d1"/><circle cx="2" cy="11.8" r="1.25" fill="#c6c7d1"/></g></svg>
<div class="t m2" style="left:472.7px;top:886px;font-size:14px;line-height:20px;color:#e6e6ec;letter-spacing:0.55px;">20210001</div>
<div class="t" style="left:599.0px;top:886px;font-size:13px;line-height:20px;color:#e87aa8;font-weight:700;letter-spacing:0.15px;">Po splatnosti</div>
<div class="t" style="left:752.9px;top:886px;font-size:16px;line-height:20px;color:#f3f3f7;font-weight:700;letter-spacing:0.07px;">K.A.T. market s.r.o.</div>
<div class="t" style="left:1071.2px;top:886px;font-size:16px;line-height:20px;color:#f3f3f7;font-weight:700;letter-spacing:0.39px;">10 000,00</div>
<div class="t m2" style="left:1215.6px;top:886px;font-size:14px;line-height:20px;color:#e6e6ec;letter-spacing:0.45px;">12 000,00</div>
<div class="t m2" style="left:1344.2px;top:886px;font-size:14px;line-height:20px;color:#e6e6ec;letter-spacing:0.39px;">07.03.2024</div>
<div class="t m2" style="left:1480.4px;top:886px;font-size:14px;line-height:20px;color:#e6e6ec;letter-spacing:0.39px;">07.04.2024</div>
</div>
<div class="table-row">
<svg class="b" style="left:400px;top:971px" width="1572" height="5" fill="none"><g transform="translate(0.6 0.75)"><rect width="1570.4" height="3" fill="#363a52" opacity=".3"/><rect y="1" width="1570.4" height="1" fill="#363a52"/></g></svg>
<svg class="b" style="left:419px;top:940px" width="16" height="17" fill="none"><g transform="translate(0 0.7)"><rect x="1.1" y="1.1" width="12.8" height="12.8" rx="1.8" stroke="#8f92a6" stroke-width="1.6"/></g></svg>
<svg class="b" style="left:581px;top:942px" width="14" height="14" fill="none"><g transform="translate(0.75 0.3) scale(0.9833 0.9833)"><circle cx="6" cy="6" r="5.8" fill="#86d0a0"/><path d="M3.4 6.3L5.2 8.1L8.8 4.4" stroke="#2c4f57" stroke-width="1.35"/></g></svg>
<svg class="b" style="left:1942px;top:941px" width="6" height="16" fill="none"><g transform="translate(0.9 0.2)"><circle cx="2" cy="2.2" r="1.25" fill="#c6c7d1"/><circle cx="2" cy="7" r="1.25" fill="#c6c7d1"/><circle cx="2" cy="11.8" r="1.25" fill="#c6c7d1"/></g></svg>
<div class="t m2" style="left:472.7px;top:938px;font-size:14px;line-height:20px;color:#e6e6ec;letter-spacing:0.55px;">20210001</div>
<div class="t" style="left:599.1px;top:938px;font-size:13px;line-height:20px;color:#86d0a0;font-weight:700;letter-spacing:0.22px;">Uhradené</div>
<div class="t" style="left:752.9px;top:938px;font-size:16px;line-height:20px;color:#f3f3f7;font-weight:700;letter-spacing:0.07px;">K.A.T. market s.r.o.</div>
<div class="t" style="left:1071.2px;top:938px;font-size:16px;line-height:20px;color:#f3f3f7;font-weight:700;letter-spacing:0.39px;">10 000,00</div>
<div class="t m2" style="left:1215.6px;top:938px;font-size:14px;line-height:20px;color:#e6e6ec;letter-spacing:0.45px;">12 000,00</div>
<div class="t m2" style="left:1344.2px;top:938px;font-size:14px;line-height:20px;color:#e6e6ec;letter-spacing:0.39px;">07.03.2024</div>
<div class="t m2" style="left:1480.4px;top:938px;font-size:14px;line-height:20px;color:#e6e6ec;letter-spacing:0.39px;">07.04.2024</div>
</div>
<div class="table-row">
<svg class="b" style="left:400px;top:1023px" width="1572" height="5" fill="none"><g transform="translate(0.6 0.82)"><rect width="1570.4" height="3" fill="#363a52" opacity=".3"/><rect y="1" width="1570.4" height="1" fill="#363a52"/></g></svg>
<svg class="b" style="left:419px;top:992px" width="16" height="17" fill="none"><g transform="translate(0 0.77)"><rect x="1.1" y="1.1" width="12.8" height="12.8" rx="1.8" stroke="#8f92a6" stroke-width="1.6"/></g></svg>
<svg class="b" style="left:581px;top:994px" width="14" height="14" fill="none"><g transform="translate(0.75 0.37) scale(0.9833 0.9833)"><circle cx="6" cy="6" r="5.8" fill="#86d0a0"/><path d="M3.4 6.3L5.2 8.1L8.8 4.4" stroke="#2c4f57" stroke-width="1.35"/></g></svg>
<svg class="b" style="left:1585px;top:987px" width="60" height="27" fill="none"><g transform="translate(0.2 0.97)"><rect x="1" y="1" width="56.4" height="22.6" rx="4" fill="#e87aa8"/></g></svg>
<svg class="b" style="left:1942px;top:993px" width="6" height="16" fill="none"><g transform="translate(0.9 0.27)"><circle cx="2" cy="2.2" r="1.25" fill="#c6c7d1"/><circle cx="2" cy="7" r="1.25" fill="#c6c7d1"/><circle cx="2" cy="11.8" r="1.25" fill="#c6c7d1"/></g></svg>
<div class="t m2" style="left:472.7px;top:990px;font-size:14px;line-height:20px;color:#e6e6ec;letter-spacing:0.55px;">20210001</div>
<div class="t" style="left:599.1px;top:990px;font-size:13px;line-height:20px;color:#86d0a0;font-weight:700;letter-spacing:0.22px;">Uhradené</div>
<div class="t" style="left:752.9px;top:990px;font-size:16px;line-height:20px;color:#f3f3f7;font-weight:700;letter-spacing:0.07px;">K.A.T. market s.r.o.</div>
<div class="t" style="left:1071.2px;top:990px;font-size:16px;line-height:20px;color:#f3f3f7;font-weight:700;letter-spacing:0.39px;">10 000,00</div>
<div class="t m2" style="left:1215.6px;top:990px;font-size:14px;line-height:20px;color:#e6e6ec;letter-spacing:0.45px;">12 000,00</div>
<div class="t m2" style="left:1344.2px;top:990px;font-size:14px;line-height:20px;color:#e6e6ec;letter-spacing:0.39px;">07.03.2024</div>
<div class="t m2" style="left:1480.4px;top:990px;font-size:14px;line-height:20px;color:#e6e6ec;letter-spacing:0.39px;">07.04.2024</div>
<div class="t" style="left:1594.8px;top:990px;font-size:12px;line-height:20px;color:#ffffff;font-weight:700;letter-spacing:0.01px;">Služby</div>
</div>
</body>
</html>
